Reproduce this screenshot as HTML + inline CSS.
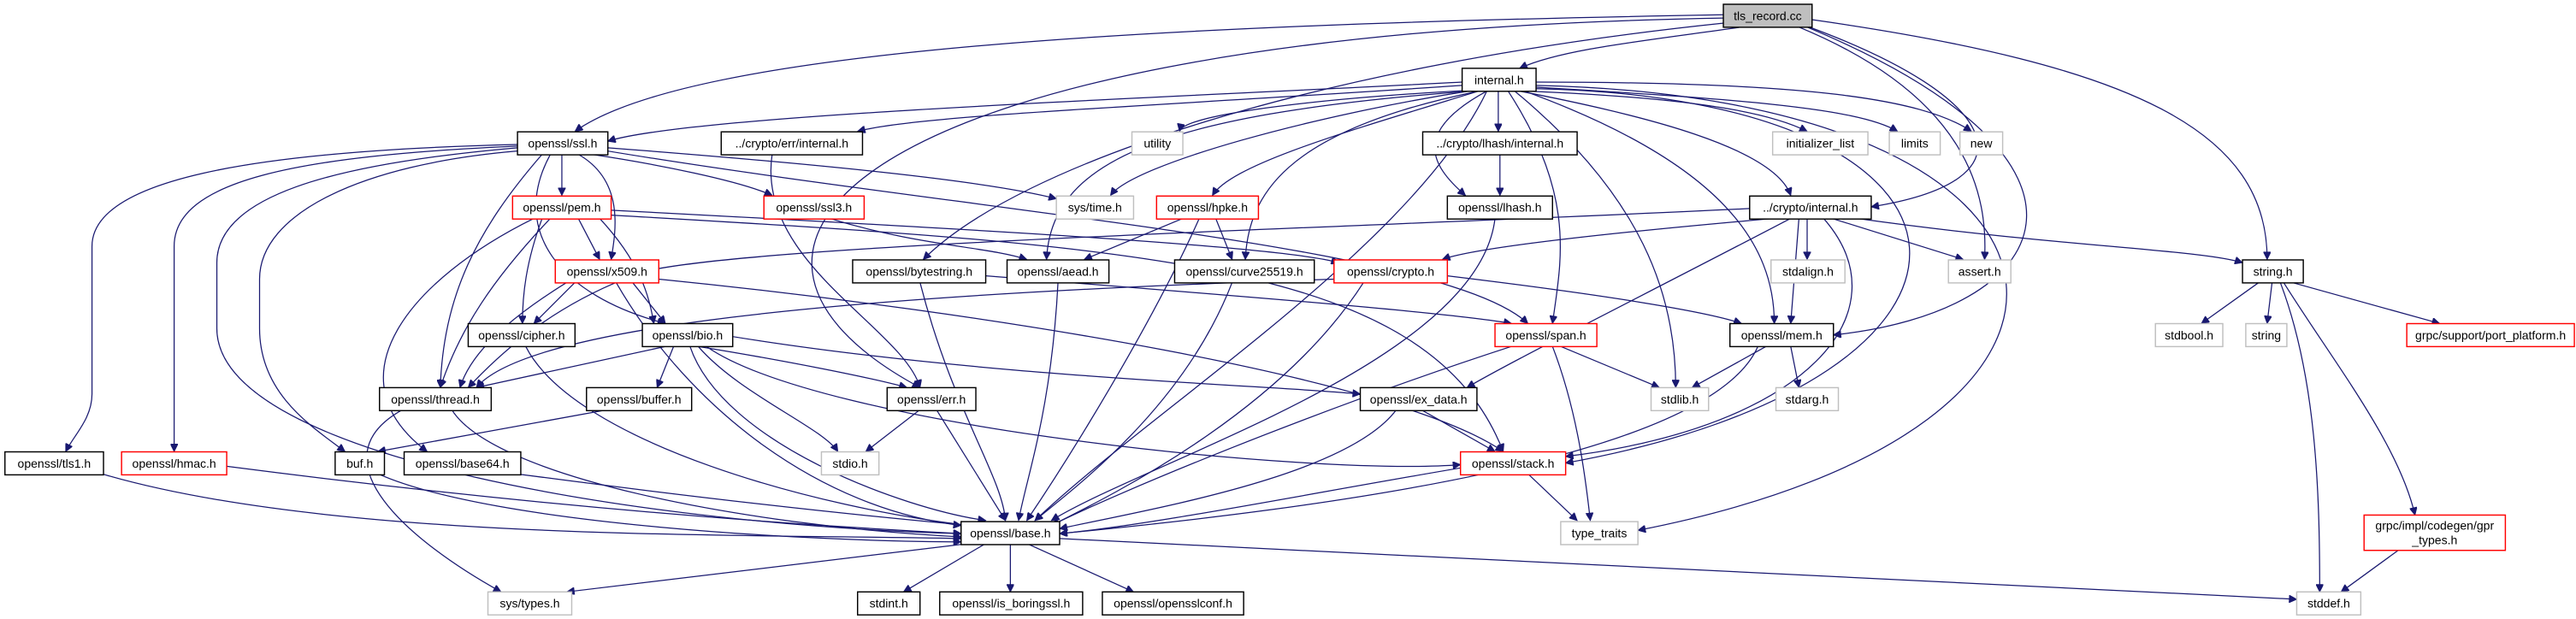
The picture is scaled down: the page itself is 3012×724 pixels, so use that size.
<!DOCTYPE html>
<html><head><meta charset="utf-8"><style>
html,body{margin:0;padding:0;background:#fff;}
svg{display:block;}
text{font-family:"Liberation Sans",sans-serif;font-size:7.3px;fill:#000;text-anchor:middle;}
.n{fill:#fff;stroke:#000;stroke-width:0.75;}
.g{fill:#fff;stroke:#bfbfbf;stroke-width:0.75;}
.r{fill:#fff;stroke:#ff0000;stroke-width:0.75;}
.e path{fill:none;stroke:#191970;stroke-width:0.65;marker-end:url(#a);}
</style></head><body>
<svg width="3012" height="724" viewBox="0 0 1568 377" preserveAspectRatio="none" xmlns="http://www.w3.org/2000/svg">
<defs><marker id="a" viewBox="0 0 10 10" refX="10" refY="5" markerUnits="userSpaceOnUse" markerWidth="5.5" markerHeight="4.5" orient="auto"><path d="M0,0 L10,5 L0,10 z" fill="#191970" stroke="#191970"/></marker></defs>
<g class="e">
<path d="M1049 9 C700 15,420 30,350 80"/>
<path d="M1060 16.5 C1000 25,950 30,925 41.6"/>
<path d="M1049 11 C520 20,400 150,560 236"/>
<path d="M1050 14 C800 40,620 100,562 158"/>
<path d="M1100 16 C1220 60,1240 110,1139 126"/>
<path d="M1095 16.5 C1200 60,1210 120,1208 158"/>
<path d="M1103 12 C1300 40,1380 80,1380 158"/>
<path d="M1100 16.5 C1300 100,1250 190,1116 204"/>
<path d="M890 50 C700 60,420 70,370 86"/>
<path d="M890 52 C700 65,560 70,522 80"/>
<path d="M895 55 C800 60,720 70,718 80"/>
<path d="M897 55 C800 70,690 100,676 119"/>
<path d="M900 55.5 C820 80,750 100,738 119"/>
<path d="M912 55.5 L912 80"/>
<path d="M905 55.5 C860 80,870 100,892 119"/>
<path d="M895 55.5 C700 70,640 100,637 158"/>
<path d="M900 55.5 C780 80,760 120,758 158"/>
<path d="M930 55.5 C1040 60,1080 70,1100 80"/>
<path d="M933 53 C1050 60,1130 65,1155 80"/>
<path d="M935 50 C1100 50,1170 60,1200 80"/>
<path d="M925 55.5 C1000 70,1080 90,1090 119"/>
<path d="M918 55.5 C960 120,950 160,945 197"/>
<path d="M922 55.5 C1000 120,1020 180,1020 236"/>
<path d="M928 55.5 C1050 100,1080 150,1080 197"/>
<path d="M935 54 C1230 60,1240 230,953 282"/>
<path d="M935 52 C1290 60,1320 260,997 323"/>
<path d="M905 55.5 C860 150,700 250,630 317"/>
<path d="M342 94 L342 119"/>
<path d="M360 94 C400 100,450 110,470 119"/>
<path d="M370 90 C500 100,600 110,643 121"/>
<path d="M352 94 C380 110,375 140,372 158"/>
<path d="M335 94 C310 140,340 180,405 197"/>
<path d="M330 94 C290 140,270 180,268 236"/>
<path d="M315 88 C150 92,56 110,56 150 L56 240 C56 255,45 265,40 275"/>
<path d="M315 89 C180 95,106 110,106 150 L106 275"/>
<path d="M315 90 C200 100,132 120,132 160 L132 200 C132 280,400 320,585 325"/>
<path d="M315 92 C220 100,158 130,158 170 L158 200 C158 240,190 260,210 275"/>
<path d="M370 92 C600 130,880 150,930 197"/>
<path d="M470 94 C460 160,550 200,560 236"/>
<path d="M913 94 L913 119"/>
<path d="M352 133 L365 158"/>
<path d="M365 133 C390 160,395 180,398 197"/>
<path d="M330 133 C320 160,318 180,318 197"/>
<path d="M335 133 C300 170,280 200,268 236"/>
<path d="M372 128 C600 140,780 150,815 160"/>
<path d="M372 131 C700 150,870 160,915 275"/>
<path d="M325 133 C250 170,200 230,260 275"/>
<path d="M505 133 C560 150,600 150,625 158"/>
<path d="M720 133 L660 158"/>
<path d="M740 133 L750 158"/>
<path d="M730 133 C700 200,650 280,625 317"/>
<path d="M910 133 C900 220,700 280,640 317"/>
<path d="M1080 133 C1000 140,900 150,878 158"/>
<path d="M1130 133 C1250 150,1340 152,1365 160"/>
<path d="M1115 133 L1195 158"/>
<path d="M1100 133 L1100 158"/>
<path d="M1090 133 C1000 180,920 220,893 236"/>
<path d="M1110 133 C1160 190,1100 260,953 278"/>
<path d="M1095 133 L1090 197"/>
<path d="M1065 127 C800 140,400 150,380 170 C330 190,300 220,285 236"/>
<path d="M385 172 L405 197"/>
<path d="M350 172 L325 197"/>
<path d="M345 172 C300 200,285 220,280 236"/>
<path d="M401 170 C600 190,850 230,915 275"/>
<path d="M375 172 C420 250,500 310,585 320"/>
<path d="M560 172 C580 250,610 290,612 317"/>
<path d="M600 168 C750 180,880 190,920 197"/>
<path d="M644 172 C640 250,625 290,620 317"/>
<path d="M750 172 C720 250,650 300,630 317"/>
<path d="M881 168 C980 180,1040 190,1060 197"/>
<path d="M812 170 C500 180,320 200,290 236"/>
<path d="M830 172 C780 250,680 300,640 320"/>
<path d="M1375 172 L1340 197"/>
<path d="M1383 172 L1380 197"/>
<path d="M1395 172 L1485 197"/>
<path d="M1390 172 C1420 220,1460 270,1470 313.7"/>
<path d="M1388 172 C1410 230,1412 300,1412 360.5"/>
<path d="M320 211 C350 270,500 310,590 320"/>
<path d="M405 211 L290 236"/>
<path d="M410 211 L400 236"/>
<path d="M425 211 C480 220,530 230,552 236"/>
<path d="M446 205 C600 230,780 235,828 240"/>
<path d="M425 211 C450 240,500 260,510 275"/>
<path d="M430 211 C500 260,800 290,889 283"/>
<path d="M420 211 C440 270,550 310,600 317"/>
<path d="M950 211 L1010 236"/>
<path d="M945 211 C960 250,965 290,968 317"/>
<path d="M920 211 C800 250,680 300,640 320"/>
<path d="M1075 211 L1030 236"/>
<path d="M1090 211 L1095 236"/>
<path d="M1070 211 C1040 280,800 310,645 325"/>
<path d="M275 249.5 C300 290,450 320,585 327"/>
<path d="M245 249.5 C190 280,250 330,305 360.5"/>
<path d="M370 249.5 L230 275"/>
<path d="M560 249.5 L527 275"/>
<path d="M570 249.5 L612 317"/>
<path d="M865 249.5 L910 275"/>
<path d="M850 249.5 C820 290,700 310,645 322"/>
<path d="M60 288 C200 330,450 325,585 328"/>
<path d="M138 284 C300 305,450 318,585 325"/>
<path d="M230 288.5 C300 320,500 330,585 330"/>
<path d="M310 288 C400 300,500 312,590 320"/>
<path d="M889 285 C800 300,700 320,645 325"/>
<path d="M930 288.5 L960 317"/>
<path d="M590 331 L345 360.5"/>
<path d="M600 331 L550 360.5"/>
<path d="M615 331 L615 360.5"/>
<path d="M625 331 L690 360.5"/>
<path d="M645 328 L1398 365"/>
<path d="M1460 335 L1425 360.5"/>
</g>
<g>
<rect x="1049" y="2.6" width="54" height="14" fill="#bfbfbf" stroke="#000" stroke-width="0.75"/><text x="1076" y="12.2">tls_record.cc</text>
<rect class="n" x="890" y="41.6" width="45" height="14"/><text x="912.5" y="51.2">internal.h</text>
<rect class="n" x="315" y="80.3" width="55" height="14"/><text x="342.5" y="89.9">openssl/ssl.h</text>
<rect class="n" x="439" y="80.3" width="86" height="14"/><text x="482" y="89.9">../crypto/err/internal.h</text>
<rect class="g" x="689" y="80.3" width="31" height="14"/><text x="704.5" y="89.9">utility</text>
<rect class="n" x="866" y="80.3" width="94" height="14"/><text x="913" y="89.9">../crypto/lhash/internal.h</text>
<rect class="g" x="1079" y="80.3" width="58" height="14"/><text x="1108" y="89.9">initializer_list</text>
<rect class="g" x="1150" y="80.3" width="31" height="14"/><text x="1165.5" y="89.9">limits</text>
<rect class="g" x="1193" y="80.3" width="26" height="14"/><text x="1206" y="89.9">new</text>
<rect class="r" x="312" y="119.4" width="60" height="14"/><text x="342" y="129">openssl/pem.h</text>
<rect class="r" x="465" y="119.4" width="61" height="14"/><text x="495.5" y="129">openssl/ssl3.h</text>
<rect class="g" x="643" y="119.4" width="47" height="14"/><text x="666.5" y="129">sys/time.h</text>
<rect class="r" x="704" y="119.4" width="62" height="14"/><text x="735" y="129">openssl/hpke.h</text>
<rect class="n" x="881" y="119.4" width="64" height="14"/><text x="913" y="129">openssl/lhash.h</text>
<rect class="n" x="1065" y="119.4" width="74" height="14"/><text x="1102" y="129">../crypto/internal.h</text>
<rect class="r" x="338" y="158.3" width="63" height="14"/><text x="369.5" y="167.9">openssl/x509.h</text>
<rect class="n" x="519" y="158.3" width="81" height="14"/><text x="559.5" y="167.9">openssl/bytestring.h</text>
<rect class="n" x="613" y="158.3" width="62" height="14"/><text x="644" y="167.9">openssl/aead.h</text>
<rect class="n" x="715" y="158.3" width="85" height="14"/><text x="757.5" y="167.9">openssl/curve25519.h</text>
<rect class="r" x="812" y="158.3" width="69" height="14"/><text x="846.5" y="167.9">openssl/crypto.h</text>
<rect class="g" x="1078" y="158.3" width="45" height="14"/><text x="1100.5" y="167.9">stdalign.h</text>
<rect class="g" x="1186" y="158.3" width="38" height="14"/><text x="1205" y="167.9">assert.h</text>
<rect class="n" x="1365" y="158.3" width="37" height="14"/><text x="1383.5" y="167.9">string.h</text>
<rect class="n" x="285" y="197.1" width="65" height="14"/><text x="317.5" y="206.7">openssl/cipher.h</text>
<rect class="n" x="391" y="197.1" width="55" height="14"/><text x="418.5" y="206.7">openssl/bio.h</text>
<rect class="r" x="910" y="197.1" width="62" height="14"/><text x="941" y="206.7">openssl/span.h</text>
<rect class="n" x="1053" y="197.1" width="63" height="14"/><text x="1084.5" y="206.7">openssl/mem.h</text>
<rect class="g" x="1312" y="197.1" width="41" height="14"/><text x="1332.5" y="206.7">stdbool.h</text>
<rect class="g" x="1367" y="197.1" width="25" height="14"/><text x="1379.5" y="206.7">string</text>
<rect class="r" x="1465" y="197.1" width="102" height="14"/><text x="1516" y="206.7">grpc/support/port_platform.h</text>
<rect class="n" x="231" y="236.1" width="68" height="14"/><text x="265" y="245.7">openssl/thread.h</text>
<rect class="n" x="357" y="236.1" width="64" height="14"/><text x="389" y="245.7">openssl/buffer.h</text>
<rect class="n" x="540" y="236.1" width="54" height="14"/><text x="567" y="245.7">openssl/err.h</text>
<rect class="n" x="828" y="236.1" width="71" height="14"/><text x="863.5" y="245.7">openssl/ex_data.h</text>
<rect class="g" x="1005" y="236.1" width="35" height="14"/><text x="1022.5" y="245.7">stdlib.h</text>
<rect class="g" x="1081" y="236.1" width="38" height="14"/><text x="1100" y="245.7">stdarg.h</text>
<rect class="n" x="3" y="275.2" width="60" height="14"/><text x="33" y="284.8">openssl/tls1.h</text>
<rect class="r" x="74" y="275.2" width="64" height="14"/><text x="106" y="284.8">openssl/hmac.h</text>
<rect class="n" x="204" y="275.2" width="30" height="14"/><text x="219" y="284.8">buf.h</text>
<rect class="n" x="246" y="275.2" width="71" height="14"/><text x="281.5" y="284.8">openssl/base64.h</text>
<rect class="g" x="500" y="275.2" width="35" height="14"/><text x="517.5" y="284.8">stdio.h</text>
<rect class="r" x="889" y="275.2" width="64" height="14"/><text x="921" y="284.8">openssl/stack.h</text>
<rect class="n" x="585" y="317.7" width="60" height="14"/><text x="615" y="327.3">openssl/base.h</text>
<rect class="g" x="950" y="317.7" width="47" height="14"/><text x="973.5" y="327.3">type_traits</text>
<rect class="r" x="1439" y="313.7" width="86" height="21.5"/><text x="1482" y="322.5">grpc/impl/codegen/gpr</text><text x="1482" y="331.5">_types.h</text>
<rect class="g" x="297" y="360.5" width="51" height="14"/><text x="322.5" y="370.1">sys/types.h</text>
<rect class="n" x="522" y="360.5" width="38" height="14"/><text x="541" y="370.1">stdint.h</text>
<rect class="n" x="572" y="360.5" width="87" height="14"/><text x="615.5" y="370.1">openssl/is_boringssl.h</text>
<rect class="n" x="671" y="360.5" width="86" height="14"/><text x="714" y="370.1">openssl/opensslconf.h</text>
<rect class="g" x="1398" y="360.5" width="39" height="14"/><text x="1417.5" y="370.1">stddef.h</text>
</g>
</svg>
</body></html>
